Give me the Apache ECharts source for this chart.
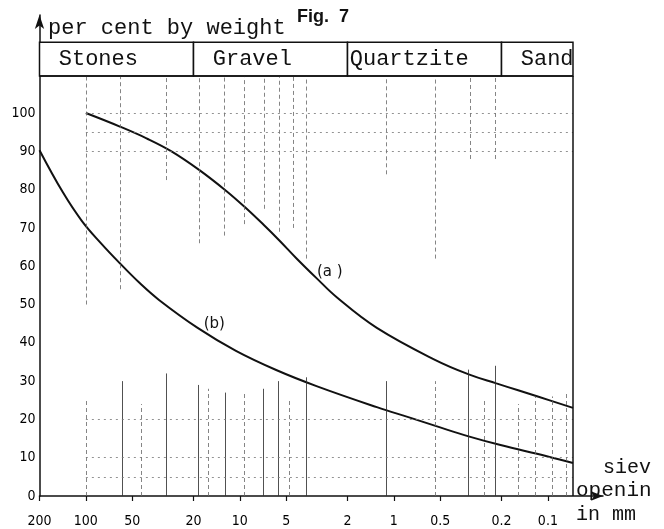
<!DOCTYPE html>
<html><head><meta charset="utf-8">
<script src="https://cdn.jsdelivr.net/npm/echarts@6/dist/echarts.min.js"></script>
<style>html,body{margin:0;padding:0;background:#fff}#c{width:664px;height:529px}</style>
</head><body><div id="c"></div>
<script>
// ---- data ----
const xTickLabels = [200, 100, 50, 20, 10, 5, 2, 1, 0.5, 0.2, 0.1];
const yTickLabels = [0, 10, 20, 30, 40, 50, 60, 70, 80, 90, 100];
const curveA = [[100,100],[59.6,96.4],[40.4,93.4],[27.8,90.0],[18.3,85.1],[12.2,79.6],[9.14,75.2],[6.96,70.7],[5.56,66.8],[4.3,62.1],[3.18,56.9],[2.35,51.9],[1.29,43.9],[0.537,35.5],[0.323,31.7],[0.216,29.4],[0.156,27.6],[0.115,25.9],[0.0687,23.0]];
const curveB = [[200,90.3],[141,79.3],[106,71.8],[79.4,65.9],[59.6,60.6],[44.7,55.6],[33.5,51.2],[18.8,43.9],[10.6,37.9],[5.81,32.9],[3.18,28.7],[1.29,23.2],[0.778,20.4],[0.537,18.3],[0.323,15.5],[0.203,13.3],[0.1016,10.4],[0.0687,8.6]];
const labelA = [3.4, 58.5];
const labelB = [18.5, 45];
const bandNames = ['Stones', 'Gravel', 'Quartzite', 'Sand'];
const bandEdges = [200, 20, 2, 0.2, 0.0687];
// sieve-size guide lines: [size, extent %]
const upperGuides = [[100,50],[59.6,54],[30,82.5],[18.3,66],[12.6,68],[9.3,71],[6.96,75],[5.56,69],[4.5,70],[3.7,62],[1.12,84],[0.54,62],[0.32,88],[0.22,88]];
const lowerGuidesSolid = [[58,30],[30,32],[18.6,29],[12.5,27],[7.0,28],[5.6,30],[3.7,31],[1.12,30],[0.33,33],[0.22,34]];
const lowerGuidesDashed = [[100,25],[44,24],[16,28],[9.3,27],[4.8,25],[0.54,30],[0.26,25],[0.156,24],[0.12,26],[0.094,26],[0.076,27]];
const dottedLevels = [5, 10, 20, 90, 95, 100];
const xMin = 0.04386, xMax = 200, frameX = 0.0687;
const yMax = 125.6, frameTop = 109.7, headerTop = 118.5;

// ---- chart ----
const chart = echarts.init(document.getElementById('c'), null, {renderer: 'canvas'});
const mono = "'Liberation Mono', 'DejaVu Sans Mono', monospace";
const numFont = "'Liberation Sans Narrow', 'DejaVu Sans Condensed', 'DejaVu Sans', sans-serif";
const bandLabelDist = [20, 20, 3, 20];

const bandAreas = bandNames.map((n, i) => [
  {xAxis: bandEdges[i], yAxis: frameTop, name: n,
   label: {show: true, position: 'insideLeft', distance: bandLabelDist[i], formatter: n,
           fontFamily: mono, fontSize: 22, color: '#111'}},
  {xAxis: bandEdges[i + 1], yAxis: headerTop}
]);

const seg = (x, y0, y1) => [{coord: [x, y0]}, {coord: [x, y1]}];
const upperL = upperGuides.map(d => seg(d[0], d[1], frameTop));
const lowerS = lowerGuidesSolid.map(d => seg(d[0], 0, d[1]));
const lowerD = lowerGuidesDashed.map(d => seg(d[0], 0, d[1]));
const hLines = dottedLevels.map(v => [{coord: [100, v]}, {coord: [frameX, v]}]);

chart.setOption({
  animation: false,
  backgroundColor: '#fff',
  grid: {left: 39.5, right: 61, top: 15, bottom: 33, containLabel: false},
  xAxis: {
    type: 'log', logBase: 10, min: xMin, max: xMax, inverse: true,
    axisLine: {show: true, symbol: ['none', 'arrow'], symbolSize: [7, 12], lineStyle: {color: '#111', width: 1.5}},
    axisTick: {show: true, customValues: xTickLabels, length: 5, inside: false, lineStyle: {color: '#111', width: 1.2}},
    axisLabel: {show: true, customValues: xTickLabels, margin: 18, fontFamily: numFont, fontSize: 14, color: '#000',
                formatter: v => String(+(+v).toPrecision(6))},
    splitLine: {show: false}, minorTick: {show: false}
  },
  yAxis: {
    type: 'value', min: 0, max: yMax, interval: 10,
    axisLine: {show: true, symbol: ['none', 'arrow'], symbolSize: [7, 14], lineStyle: {color: '#111', width: 1.5}},
    axisTick: {show: false},
    axisLabel: {show: true, margin: 4, fontFamily: numFont, fontSize: 14, color: '#000',
                formatter: v => (v <= 100 ? String(v) : '')},
    splitLine: {show: false}
  },
  title: {text: 'Fig.  7', left: 292, top: 3, textStyle: {fontFamily: "'Liberation Sans', sans-serif", fontSize: 18, fontWeight: 'bold', color: '#111'}},
  graphic: [
    {type: 'text', left: 48, top: 17, style: {text: 'per cent by weight', font: "22px " + mono, fill: '#111'}},
    {type: 'text', left: 603, top: 458, style: {text: 'siev', font: "20px " + mono, fill: '#111'}},
    {type: 'text', left: 576, top: 480, style: {text: 'openin', font: "21px " + mono, fill: '#111'}},
    {type: 'text', left: 576, top: 505, style: {text: 'in mm', font: "20px " + mono, fill: '#111'}}
  ],
  series: [
    {
      type: 'line', name: 'guidesDashed', data: [], silent: true,
      markLine: {silent: true, symbol: 'none', label: {show: false},
        lineStyle: {color: '#666', type: [4, 3], width: 1, opacity: 0.8}, data: upperL.concat(lowerD)}
    },
    {
      type: 'line', name: 'guidesSolid', data: [], silent: true,
      markLine: {silent: true, symbol: 'none', label: {show: false},
        lineStyle: {color: '#333', type: 'solid', width: 1, opacity: 0.85}, data: lowerS}
    },
    {
      type: 'line', name: 'levels', data: [], silent: true,
      markLine: {silent: true, symbol: 'none', label: {show: false},
        lineStyle: {color: '#777', type: [2, 4], width: 1, opacity: 0.8}, data: hLines}
    },
    {
      type: 'line', name: 'frame', data: [], silent: true,
      markArea: {silent: true, itemStyle: {color: '#fff', borderColor: '#111', borderWidth: 1.5}, data: bandAreas},
      markLine: {silent: true, symbol: 'none', label: {show: false}, lineStyle: {color: '#111', type: 'solid', width: 1.5},
        data: [[{coord: [frameX, 0]}, {coord: [frameX, frameTop]}], [{coord: [xMax, frameTop]}, {coord: [frameX, frameTop]}]]}
    },
    {
      type: 'line', name: '(a)', data: curveA, smooth: 0.4, symbol: 'none',
      lineStyle: {color: '#111', width: 2},
      markPoint: {symbol: 'circle', symbolSize: 0, data: [{coord: labelA}],
        label: {show: true, formatter: '(a )', position: 'right', fontFamily: "'DejaVu Sans', sans-serif", fontSize: 15, color: '#111'}}
    },
    {
      type: 'line', name: '(b)', data: curveB, smooth: 0.4, symbol: 'none',
      lineStyle: {color: '#111', width: 2},
      markPoint: {symbol: 'circle', symbolSize: 0, data: [{coord: labelB}],
        label: {show: true, formatter: '(b)', position: 'right', fontFamily: "'DejaVu Sans', sans-serif", fontSize: 15, color: '#111'}}
    }
  ]
});
</script></body></html>
